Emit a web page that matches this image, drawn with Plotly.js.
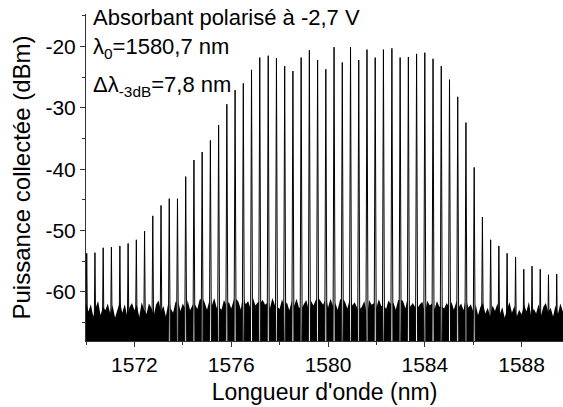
<!DOCTYPE html>
<html>
<head>
<meta charset="utf-8">
<script src="https://cdn.plot.ly/plotly-3.0.1.min.js"></script>
<style>html,body{margin:0;padding:0;background:#fff;}#chart{width:563px;height:407px;}</style>
</head>
<body>
<div id="chart"></div>
<script>
// Comb line wavelengths (nm) and peak powers (dBm)
const peakWl = [
  1570.03,1570.37,1570.71,1571.05,1571.40,1571.74,1572.08,1572.42,1572.76,1573.10,
  1573.44,1573.78,1574.12,1574.46,1574.80,1575.14,1575.48,1575.82,1576.16,1576.50,
  1576.84,1577.18,1577.53,1577.87,1578.21,1578.55,1578.89,1579.23,1579.57,1579.91,
  1580.25,1580.59,1580.93,1581.27,1581.61,1581.95,1582.29,1582.64,1582.98,1583.32,
  1583.66,1584.00,1584.34,1584.68,1585.02,1585.36,1585.70,1586.04,1586.38,1586.72,
  1587.06,1587.40,1587.75,1588.09,1588.43,1588.77,1589.11,1589.45
];
const peakDbm = [
  -53.7,-53.6,-52.8,-52.7,-52.5,-52.1,-51.5,-50.1,-47.6,-45.9,
  -44.8,-44.8,-41.2,-38.5,-37.2,-35.3,-32.8,-29.4,-27.1,-26.0,
  -23.8,-21.8,-21.5,-21.9,-23.2,-24.0,-21.8,-20.6,-22.2,-23.7,
  -20.1,-22.6,-20.1,-22.2,-20.5,-21.8,-20.5,-20.3,-21.8,-21.7,
  -21.2,-21.0,-22.0,-23.2,-25.4,-28.2,-32.4,-39.7,-47.8,-51.5,
  -52.5,-53.7,-54.3,-56.3,-55.8,-56.3,-57.2,-57.1
];
// Noise floor upper envelope (dBm), sampled every 0.1 nm from 1570.0 nm
const floorStart = 1570.0;
const floorStep = 0.1;
const floorDbm = [
  -61.8,-63.2,-62.0,-64.0,-62.6,-61.5,-63.8,-62.4,-63.0,-61.9,
  -63.5,-62.2,-64.2,-62.8,-61.6,-63.4,-62.0,-63.9,-62.5,-61.8,
  -63.0,-62.1,-64.1,-61.7,-62.9,-63.6,-61.9,-62.6,-63.8,-62.0,
  -61.4,-63.2,-62.3,-64.0,-61.8,-62.7,-63.4,-61.6,-62.8,-63.1,
  -61.9,-62.6,-61.3,-63.0,-62.0,-61.5,-62.8,-61.2,-62.4,-61.7,
  -62.9,-61.4,-62.2,-61.0,-62.6,-61.8,-62.9,-61.3,-62.0,-61.6,
  -62.7,-61.1,-62.3,-61.6,-62.9,-61.2,-62.0,-61.5,-62.8,-61.0,
  -62.2,-61.7,-62.9,-61.3,-62.1,-61.8,-62.7,-61.0,-62.4,-61.6,
  -62.8,-61.2,-62.1,-61.7,-63.0,-61.4,-62.3,-61.1,-62.6,-61.8,
  -62.0,-61.3,-62.7,-61.5,-62.2,-61.0,-62.8,-61.6,-62.1,-61.4,
  -62.6,-61.1,-62.3,-61.8,-62.9,-61.2,-62.0,-61.6,-62.7,-61.3,
  -62.2,-61.7,-62.8,-61.0,-62.4,-61.5,-62.9,-61.3,-62.1,-61.8,
  -62.6,-61.2,-62.3,-61.6,-62.8,-61.4,-62.0,-61.7,-62.9,-61.3,
  -62.2,-61.5,-62.7,-61.1,-62.4,-61.8,-62.6,-61.3,-62.0,-61.6,
  -62.8,-61.4,-62.2,-61.9,-62.9,-61.5,-62.4,-61.2,-62.7,-61.8,
  -62.3,-61.6,-62.9,-61.4,-62.5,-61.9,-63.0,-61.7,-62.6,-62.0,
  -63.2,-62.0,-63.8,-62.4,-61.8,-63.5,-62.6,-64.0,-62.2,-63.1,
  -61.9,-63.6,-62.5,-64.2,-62.8,-61.7,-63.4,-62.3,-64.0,-62.9,
  -63.7,-62.1,-63.2,-61.6,-64.1,-62.7,-63.5,-62.0,-63.9,-62.4,
  -61.8,-63.3,-62.6,-64.0,-62.2,-63.6,-61.9,-63.1
];
const xTickVals = [1572, 1576, 1580, 1584, 1588];
const yTickVals = [-20, -30, -40, -50, -60];
const xRange = [1570.0, 1589.71];
const yRange = [-68.0, -14.7];

const BOTTOM = -80;
// noise floor polygon (with gaps under the strong lines)
let pts = [];
for (let i = 0; i < floorDbm.length; i++) pts.push([floorStart + i * floorStep, floorDbm[i]]);
for (let k = 0; k < peakWl.length; k++) {
  if (peakDbm[k] > -45.5) {
    const j = Math.max(0, Math.min(floorDbm.length - 1, Math.floor((peakWl[k] - floorStart) / floorStep)));
    const e = floorDbm[j], h = 0.04;
    pts.push([peakWl[k] - h, e], [peakWl[k] - h + 1e-6, BOTTOM], [peakWl[k] + h - 1e-6, BOTTOM], [peakWl[k] + h, e]);
  }
}
pts.sort((a, b) => a[0] - b[0]);
const floorX = pts.map(p => p[0]), floorY = pts.map(p => p[1]);

// comb lines
let sx = [], sy = [];
for (let k = 0; k < peakWl.length; k++) {
  sx.push(peakWl[k] - 0.05, peakWl[k], peakWl[k] + 0.05, null);
  sy.push(BOTTOM + 5, peakDbm[k], BOTTOM + 5, null);
}

const traces = [
  {x: [xRange[0] - 1, xRange[1] + 1], y: [BOTTOM, BOTTOM], mode: 'lines', line: {width: 0, color: '#000'}, hoverinfo: 'skip', showlegend: false},
  {x: floorX, y: floorY, mode: 'lines', fill: 'tonexty', fillcolor: '#000', line: {width: 0, color: '#000'}, hoverinfo: 'skip', showlegend: false},
  {x: sx, y: sy, mode: 'lines', line: {width: 1, color: '#000'}, connectgaps: false, showlegend: false}
];

const FONT = 'Arial, "Liberation Sans", sans-serif';
const axisCommon = {
  showgrid: false, zeroline: false, showline: true, linecolor: '#333', linewidth: 1,
  ticks: 'outside', ticklen: 5, tickwidth: 1, tickcolor: '#333',
  tickfont: {family: FONT, size: 21, color: '#000'}, mirror: false
};
const layout = {
  width: 563, height: 407,
  margin: {l: 86, r: 0, t: 14, b: 66, pad: 0},
  paper_bgcolor: '#fff', plot_bgcolor: '#fff',
  showlegend: false,
  font: {family: FONT, color: '#000'},
  xaxis: Object.assign({}, axisCommon, {
    range: xRange, tickmode: 'array', tickvals: xTickVals, ticktext: xTickVals.map(String),
    minor: {dtick: 2, tick0: 1570, ticks: 'outside', ticklen: 3, tickcolor: '#333', showgrid: false},
    title: {text: "Longueur d'onde (nm)", font: {family: FONT, size: 23, color: '#000'}, standoff: 8}
  }),
  yaxis: Object.assign({}, axisCommon, {
    range: yRange, tickmode: 'array', tickvals: yTickVals, ticktext: yTickVals.map(String),
    minor: {dtick: 5, tick0: -15, ticks: 'outside', ticklen: 3, tickcolor: '#333', showgrid: false},
    title: {text: 'Puissance collectée (dBm)', font: {family: FONT, size: 24, color: '#000'}, standoff: 8}
  }),
  annotations: [
    {text: 'Absorbant polarisé à -2,7 V', xref: 'paper', yref: 'paper', x: 0.0105, y: 0.988, xanchor: 'left', yanchor: 'middle', showarrow: false, font: {family: FONT, size: 22, color: '#000'}},
    {text: 'λ<sub>0</sub>=1580,7 nm', xref: 'paper', yref: 'paper', x: 0.0105, y: 0.895, xanchor: 'left', yanchor: 'middle', showarrow: false, font: {family: FONT, size: 22, color: '#000'}},
    {text: 'Δλ<sub>-3dB</sub>=7,8 nm', xref: 'paper', yref: 'paper', x: 0.0105, y: 0.78, xanchor: 'left', yanchor: 'middle', showarrow: false, font: {family: FONT, size: 22, color: '#000'}}
  ]
};
Plotly.newPlot('chart', traces, layout, {staticPlot: true, displayModeBar: false});
</script>
</body>
</html>
